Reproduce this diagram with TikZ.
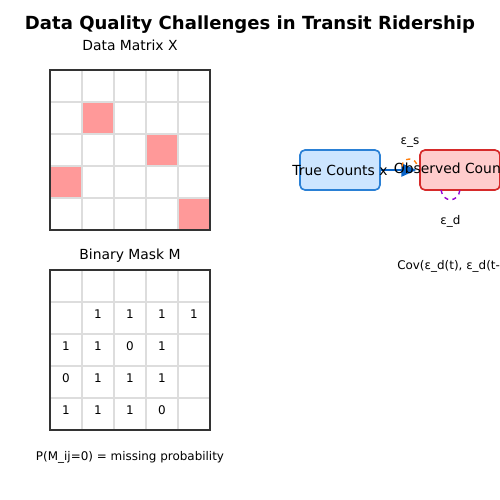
\documentclass[tikz,border=0pt]{standalone}
\usepackage{fontspec}
\setmainfont{DejaVu Sans}
\usetikzlibrary{arrows.meta}
\usepackage{xcolor}

\definecolor{cellred}{HTML}{FF9999}
\definecolor{gridgray}{HTML}{DDDDDD}
\definecolor{framegray}{HTML}{333333}
\definecolor{truefill}{HTML}{CCE5FF}
\definecolor{trueline}{HTML}{2A80D5}
\definecolor{obsfill}{HTML}{FFCCCC}
\definecolor{obsline}{HTML}{D62A2A}
\definecolor{arrowblue}{HTML}{0A64C8}
\definecolor{noiseorange}{HTML}{FF7F0E}
\definecolor{noisepurple}{HTML}{9400D3}

\begin{document}
\begin{tikzpicture}[x=0.72pt,y=-0.72pt,
    gridline/.style={draw=gridgray, line width=1.1pt},
    matframe/.style={draw=framegray, line width=1.1pt},
    heading/.style={anchor=base, font=\fontsize{10}{12}\selectfont},
    small/.style={anchor=base, font=\fontsize{8.6}{10}\selectfont},
    countbox/.style={rounded corners=3.6pt, line width=1.2pt, minimum width=57.6pt, minimum height=28.8pt, inner sep=0pt},
    boxtext/.style={font=\fontsize{10}{12}\selectfont, inner sep=0pt}]
\useasboundingbox (0,0) rectangle (500,500);
\clip (0,0) rectangle (500,500);

    % Title
    \node[anchor=base, font=\bfseries\fontsize{13}{16}\selectfont] (title) at (250,29.5) {Data Quality Challenges in Transit Ridership};

    % Data matrix X with missing cells
    \node[heading] (xlabel) at (130,50.5) {Data Matrix X};
    \foreach \c/\r in {1/1, 3/2, 0/3, 4/4} {
        \fill[cellred] ({50+32*\c},{70+32*\r}) rectangle ++(32,32);
    }
    \foreach \i in {1,...,4} {
        \draw[gridline] ({50+32*\i},70) -- ++(0,160);
        \draw[gridline] (50,{70+32*\i}) -- ++(160,0);
    }
    \draw[matframe] (50,70) rectangle (210,230);

    % Binary mask M
    \node[heading] (mlabel) at (130,259.5) {Binary Mask M};
    \foreach \i in {1,...,4} {
        \draw[gridline] ({50+32*\i},270) -- ++(0,160);
        \draw[gridline] (50,{270+32*\i}) -- ++(160,0);
    }
    \draw[matframe] (50,270) rectangle (210,430);
    \foreach \c/\r/\v in {1/1/1, 2/1/1, 3/1/1, 4/1/1,
                          0/2/1, 1/2/1, 2/2/0, 3/2/1,
                          0/3/0, 1/3/1, 2/3/1, 3/3/1,
                          0/4/1, 1/4/1, 2/4/1, 3/4/0} {
        \node[small] at ({66+32*\c},{286+32*\r}) {\v};
    }
    \node[small] (mprob) at (130,460) {P(M\_ij=0) = missing probability};

    % True and observed counts
    \node[countbox, draw=trueline, fill=truefill] (truec) at (340,170) {};
    \node[countbox, draw=obsline, fill=obsfill] (obsc) at (460,170) {};
    \draw[-{Triangle[length=10.8pt,width=9.4pt]}, arrowblue, line width=1.6pt, shorten >=2pt] (truec.east) -- (obsc.west);
    \node[boxtext] (truetxt) at (truec.center) {True Counts x};
    \node[boxtext] (obstxt) at (obsc.center) {Observed Counts y};

    % Noise loops
    \draw[noiseorange, dashed, line width=1pt] (402,166.5) arc (180:360:7.5);
    \node[small] (epss) at (410,144) {ε\_s};
    \draw[noisepurple, dashed, line width=1pt] (441,190) .. controls (443,203) and (458,203) .. (460,190);
    \node[small] (epsd) at (450.5,224) {ε\_d};
    \node[small, anchor=base west, inner sep=0pt] (cov) at (397,269) {Cov(ε\_d(t), ε\_d(t-1))};

\end{tikzpicture}
\end{document}
